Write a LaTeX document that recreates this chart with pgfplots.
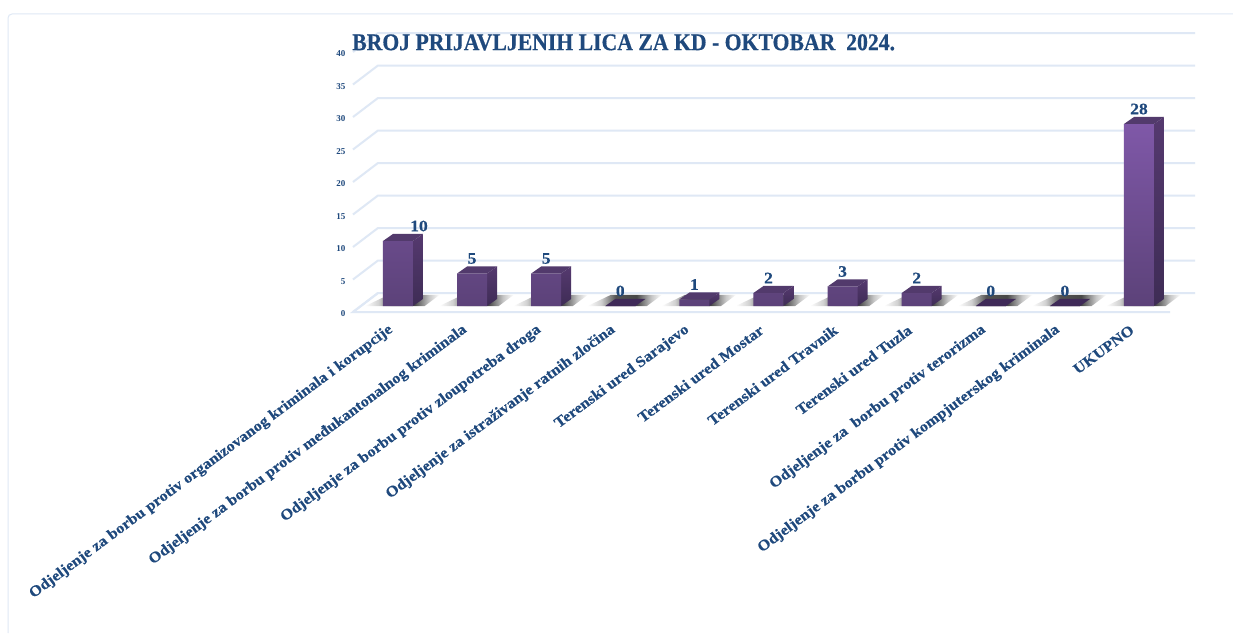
\documentclass[border=0pt]{standalone}
\usepackage{fontspec}
\setmainfont{Liberation Serif}
\newfontface\titlefont[FakeStretch=0.905,FakeBold=0.5]{Liberation Serif Bold}
\newfontface\labelfont[FakeStretch=1.095,FakeBold=0.3]{Liberation Serif Bold}
\usepackage{pgfplots}
\usepackage{pgfplotstable}
\pgfplotsset{compat=1.18}
\definecolor{tblue}{HTML}{1F497D}
\definecolor{gridc}{HTML}{DFE8F5}
\definecolor{ftop}{HTML}{7F58A8}
\definecolor{fbot}{HTML}{5C4279}
\definecolor{stop}{HTML}{55396F}
\definecolor{sbot}{HTML}{3E2C55}
\definecolor{topf}{HTML}{523A6C}
\definecolor{topz}{HTML}{3F2A58}
\pgfdeclarehorizontalshading{floorshadow}{100bp}{
  color(0bp)=(white); color(25bp)=(white); color(34bp)=(black!18); color(44bp)=(black!68);
  color(58bp)=(black!72); color(68bp)=(black!22); color(75bp)=(white); color(100bp)=(white)}
\pgfplotstableread{
x y ldx
0 10 21
1 5 0
2 5 0
3 0 0
4 1 0
5 2 0
6 3 0
7 2 0
8 0 0
9 0 0
10 28 0
}\bardata
\newcommand{\gridline}[1]{%
  \pgfmathsetmacro{\vf}{#1-0.923}\pgfmathsetmacro{\vb}{#1+2}%
  \edef\temp{\noexpand\addplot[gridc,line width=2pt,forget plot] coordinates {(-0.607,\vf) (-0.27,\vb) (10.756,\vb)};}\temp}
\newcommand{\shadow}[1]{%
  \pgfmathsetmacro{\xa}{#1-0.44}\pgfmathsetmacro{\xb}{#1+0.36}%
  \pgfmathsetmacro{\xc}{#1+0.56}\pgfmathsetmacro{\xd}{#1-0.13}%
  \edef\temp{\noexpand\addplot[draw=none,shading=floorshadow,forget plot] coordinates {(\xa,0) (\xb,0) (\xc,1.7) (\xd,1.7)} -- cycle;}\temp}
\newcommand{\barthreeD}[3][topf]{%
  \pgfmathsetmacro{\xl}{#2-0.2024}\pgfmathsetmacro{\xr}{#2+0.2024}%
  \pgfmathsetmacro{\xlb}{#2-0.0675}\pgfmathsetmacro{\xrb}{#2+0.3374}%
  \pgfmathsetmacro{\vb}{#3+1.08}\pgfmathsetmacro{\vz}{1.08}%
  \edef\temp{\noexpand\addplot[draw=none,top color=stop,bottom color=sbot,forget plot] coordinates {(\xr,0) (\xrb,\vz) (\xrb,\vb) (\xr,#3)} -- cycle;}\temp
  \edef\temp{\noexpand\addplot[draw=none,fill=#1,forget plot] coordinates {(\xl,#3) (\xr,#3) (\xrb,\vb) (\xlb,\vb)} -- cycle;}\temp}
\begin{document}
\begin{tikzpicture}[x=1pt,y=1pt]
\useasboundingbox (0,0) rectangle (1233,633);
\fill[white] (0,0) rectangle (1233,633);
\draw[gridc,line width=1pt,rounded corners=4pt] (8,0) -- (8,619) -- (1233,619);
\begin{axis}[
  at={(353pt,321pt)},anchor=south west,
  scale only axis,width=842pt,height=279pt,
  xmin=-0.607,xmax=10.756,ymin=-0.923,ymax=42,
  clip=false,
  axis line style={draw=none},
  major tick length=0pt,
  xtick={0,1,2,3,4,5,6,7,8,9,10},
  xticklabels={Odjeljenje za borbu protiv organizovanog kriminala i korupcije,
    Odjeljenje za borbu protiv međukantonalnog kriminala,
    Odjeljenje za borbu protiv zloupotreba droga,
    Odjeljenje za istraživanje ratnih zločina,
    Terenski ured Sarajevo,Terenski ured Mostar,Terenski ured Travnik,Terenski ured Tuzla,
    Odjeljenje za\ \ borbu protiv terorizma,
    Odjeljenje za borbu protiv kompjuterskog kriminala,UKUPNO},
  ytick={0,5,...,40},
  /pgf/number format/assume math mode=true,
  xticklabel style={font=\labelfont\fontsize{15}{15}\selectfont,text=tblue,rotate=36.6,anchor=east,xshift=-11.7pt,yshift=-9pt},
  yticklabel style={font=\bfseries\fontsize{9}{9}\selectfont,text=tblue,yshift=-8pt,xshift=-4pt},
  title={BROJ PRIJAVLJENIH LICA ZA KD - OKTOBAR\ \ 2024.},
  title style={font=\titlefont\fontsize{24}{24}\selectfont,text=tblue,at={(axis description cs:0,1)},anchor=north west,inner sep=0pt,xshift=-1pt,yshift=-7pt},
]
\gridline{0}\gridline{5}\gridline{10}\gridline{15}\gridline{20}\gridline{25}\gridline{30}\gridline{35}\gridline{40}
\addplot[gridc,line width=2pt,forget plot] coordinates {(-0.27,2) (-0.607,-0.923) (10.42,-0.923)};
\shadow{0}\shadow{1}\shadow{2}\shadow{3}\shadow{4}\shadow{5}\shadow{6}\shadow{7}\shadow{8}\shadow{9}\shadow{10}
\barthreeD{0}{10}\barthreeD{1}{5}\barthreeD{2}{5}\barthreeD[topz]{3}{0}\barthreeD{4}{1}\barthreeD{5}{2}\barthreeD{6}{3}\barthreeD{7}{2}\barthreeD[topz]{8}{0}\barthreeD[topz]{9}{0}\barthreeD{10}{28}
\addplot[ybar,bar width=30pt,bar shift=0pt,draw=none,top color=ftop,bottom color=fbot,
  visualization depends on={\thisrow{ldx} \as \ldx},
  nodes near coords,
  every node near coord/.append style={font=\labelfont\fontsize{16}{16}\selectfont,text=tblue,anchor=center,yshift=15pt,xshift=\ldx pt,
    /pgf/number format/assume math mode=true},
] table[x=x,y=y] {\bardata};
\end{axis}
\end{tikzpicture}
\end{document}
